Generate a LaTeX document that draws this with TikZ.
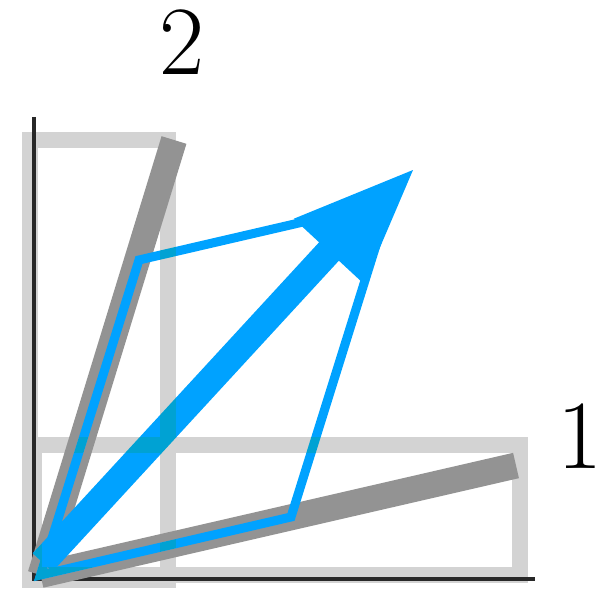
\documentclass[tikz,border=0pt]{standalone}
\definecolor{lightg}{RGB}{211,211,211}
\definecolor{darkg}{RGB}{147,147,147}
\definecolor{azure}{RGB}{0,162,255}
\definecolor{axisc}{RGB}{40,40,40}
\tikzset{
  axisline/.style={draw=axisc, line width=4pt},
  boxunder/.style={draw=lightg, line width=16pt},
  boxover/.style={draw=lightg, line width=16pt},
  vecline/.style={draw=darkg, line width=26pt},
  para/.style={draw=azure, line width=9pt, line join=miter},
  shaft/.style={draw=azure, line width=27pt},
  head/.style={fill=azure},
  numlabel/.style={font=\fontsize{98}{98}\selectfont, inner sep=0pt, anchor=base}
}
\begin{document}
\begin{tikzpicture}[x=1pt, y=-1pt]
\useasboundingbox (0,0) rectangle (596,588);
% named points
\coordinate (O) at (40.5,575);
\coordinate (E1) at (516,465.5);
\coordinate (E2) at (174,140);
\coordinate (A) at (291,517);
\coordinate (B) at (139,260);
\coordinate (C) at (389.5,202);
\coordinate (S) at (42.6,562.5);
\coordinate (M) at (331,249.3);
\coordinate (T) at (413,170);
\coordinate (H1) at (293.75,218.75);
\coordinate (H2) at (364.25,284.25);
\coordinate (AxTop) at (34,117);
\coordinate (AxLow) at (34,581.3);
\coordinate (AxLeft) at (32,579.3);
\coordinate (AxRight) at (535,579.3);
% light boxes (under)
\draw[boxunder] (29.7,140.3) rectangle (167.7,580);
\draw[boxunder] (34,445) rectangle (519.5,574.5);
% axes
\draw[axisline] (AxTop) -- (AxLow);
\draw[axisline] (AxLeft) -- (AxRight);
% transformed basis vectors
\draw[vecline] (O) -- (E1);
\draw[vecline] (O) -- (E2);
% blue parallelogram
\draw[para] (O) -- (A) -- (C) -- (B) -- cycle;
% blue arrow
\draw[shaft] (S) -- (M);
\fill[head] (T) -- (H1) -- (H2) -- cycle;
% light boxes (over, darken)
\begin{scope}[blend mode=darken]
\draw[boxover] (29.7,140.3) rectangle (167.7,580);
\draw[boxover] (34,445) rectangle (519.5,574.5);
\end{scope}
% labels
\node[numlabel] (lab2) at (182,75) {2};
\node[numlabel] (lab1) at (579.5,468.3) {1};
\end{tikzpicture}
\end{document}
